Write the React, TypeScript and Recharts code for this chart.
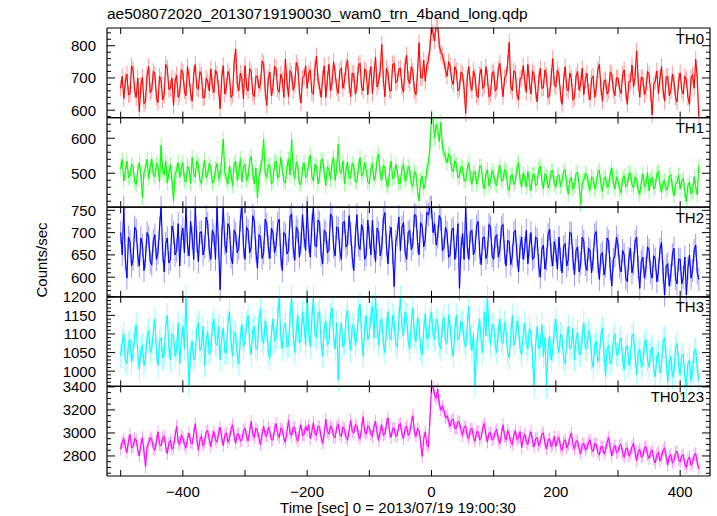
import React from 'react';
import { LineChart, Line, XAxis, YAxis, ErrorBar } from 'recharts';

// light curves, 2.5 s bins starting at T = -500 s (0 = 2013/07/19 19:00:30)
const T_START = -500;
const BIN = 2.5;

const TH0 = [
  668, 705, 636, 690, 712, 648, 650, 738, 724, 662, 640, 700, 596, 676, 702, 620, 628, 710, 735, 655,
  662, 720, 712, 640, 624, 705, 694, 632, 648, 742, 730, 665, 668, 700, 615, 690, 708, 640, 652, 725,
  718, 660, 645, 735, 700, 655, 628, 712, 742, 670, 665, 720, 708, 638, 640, 698, 690, 660, 728, 675,
  655, 725, 712, 668, 605, 700, 738, 650, 672, 720, 706, 640, 648, 745, 790, 682, 660, 715, 698, 635,
  738, 672, 660, 728, 720, 650, 642, 705, 705, 668, 684, 752, 745, 660, 615, 700, 718, 645, 670, 735,
  730, 665, 656, 712, 695, 640, 758, 690, 642, 722, 712, 662, 680, 748, 735, 658, 622, 700, 705, 738,
  668, 712, 725, 655, 650, 730, 768, 690, 672, 640, 700, 738, 640, 695, 742, 660, 685, 750, 715, 670,
  652, 722, 730, 668, 690, 735, 755, 680, 642, 715, 712, 650, 675, 740, 745, 672, 660, 728, 720, 648,
  700, 735, 652, 710, 765, 672, 688, 725, 804, 698, 642, 730, 715, 662, 660, 742, 745, 685, 690, 728,
  730, 672, 656, 740, 770, 695, 682, 735, 720, 660, 648, 718, 809, 702, 700, 755, 690, 740, 752, 795,
  860, 840, 815, 870, 865, 800, 780, 770, 752, 725, 705, 750, 738, 692, 680, 735, 722, 660, 668, 718,
  712, 665, 590, 700, 735, 680, 662, 722, 705, 648, 640, 710, 728, 668, 676, 735, 700, 642, 650, 715,
  720, 660, 668, 728, 745, 690, 642, 700, 708, 745, 811, 675, 660, 722, 716, 650, 632, 698, 700, 738,
  690, 655, 742, 688, 650, 720, 712, 660, 626, 695, 730, 668, 670, 725, 705, 640, 645, 702, 760, 680,
  672, 725, 708, 650, 618, 690, 735, 668, 660, 715, 698, 632, 640, 705, 720, 662, 682, 730, 648, 695,
  715, 655, 632, 698, 705, 640, 668, 725, 742, 672, 628, 690, 694, 650, 660, 718, 712, 662, 645, 700,
  700, 665, 652, 712, 725, 660, 618, 688, 690, 740, 672, 705, 784, 690, 640, 702, 700, 648, 662, 720,
  710, 655, 585, 680, 690, 722, 652, 698, 735, 662, 628, 702, 705, 645, 660, 712, 688, 640, 625, 690,
  716, 662, 650, 705, 695, 640, 618, 700, 710, 668, 758, 700, 580,
];

const TH1 = [
  512, 540, 478, 505, 535, 488, 492, 525, 520, 475, 468, 510, 530, 498, 430, 502, 515, 540, 485, 520,
  540, 495, 490, 528, 518, 475, 580, 510, 495, 535, 472, 500, 525, 480, 421, 498, 508, 530, 488, 515,
  530, 482, 475, 520, 512, 470, 545, 498, 490, 535, 522, 480, 470, 512, 538, 488, 497, 528, 515, 472,
  478, 512, 528, 485, 495, 540, 597, 505, 482, 470, 520, 498, 465, 525, 535, 480, 500, 542, 475, 518,
  525, 480, 492, 535, 548, 500, 470, 515, 430, 490, 515, 540, 597, 498, 488, 525, 522, 470, 476, 530,
  535, 485, 498, 545, 515, 478, 472, 520, 540, 495, 597, 510, 485, 532, 520, 470, 468, 512, 530, 488,
  495, 530, 552, 492, 478, 525, 518, 470, 490, 538, 540, 500, 465, 518, 512, 482, 528, 545, 480, 515,
  583, 505, 500, 535, 470, 512, 532, 485, 488, 528, 520, 476, 475, 518, 545, 492, 498, 530, 510, 475,
  470, 512, 528, 480, 492, 540, 555, 498, 480, 522, 515, 468, 462, 505, 535, 485, 490, 525, 508, 470,
  472, 515, 525, 478, 488, 520, 510, 470, 462, 505, 498, 450, 421, 480, 492, 455, 470, 510, 530, 575,
  660, 655, 600, 640, 625, 590, 645, 575, 560, 545, 530, 555, 548, 510, 505, 535, 525, 488, 490, 520,
  515, 480, 478, 512, 530, 490, 468, 502, 505, 470, 485, 520, 520, 475, 455, 498, 510, 465, 475, 508,
  498, 470, 465, 505, 522, 478, 480, 510, 505, 462, 450, 492, 495, 468, 475, 515, 530, 480, 462, 500,
  488, 460, 505, 475, 450, 495, 498, 465, 470, 512, 520, 478, 455, 498, 490, 458, 472, 505, 508, 470,
  460, 492, 495, 462, 478, 505, 510, 470, 440, 482, 488, 455, 465, 500, 502, 468, 411, 475, 480, 500,
  495, 465, 452, 490, 485, 455, 470, 502, 508, 470, 448, 485, 490, 460, 462, 498, 515, 472, 455, 490,
  478, 455, 445, 485, 492, 462, 465, 498, 500, 468, 458, 490, 482, 450, 440, 475, 498, 462, 470, 502,
  450, 482, 488, 455, 462, 498, 505, 468, 445, 475, 480, 452, 458, 492, 495, 460, 435, 470, 472, 495,
  455, 478, 485, 450, 418, 465, 475, 442, 448, 490, 462, 438, 520,
];

const TH2 = [
  700, 650, 757, 640, 598, 690, 680, 625, 640, 712, 705, 648, 625, 688, 672, 615, 645, 700, 690, 635,
  628, 682, 695, 640, 655, 710, 757, 660, 612, 675, 688, 632, 640, 715, 700, 650, 660, 720, 625, 690,
  710, 655, 757, 672, 648, 725, 690, 640, 757, 680, 635, 700, 702, 650, 668, 735, 720, 660, 640, 705,
  695, 640, 757, 668, 572, 690, 757, 675, 655, 720, 712, 645, 630, 705, 698, 655, 665, 728, 757, 670,
  640, 712, 705, 655, 668, 738, 725, 660, 620, 695, 690, 642, 655, 730, 718, 668, 642, 710, 700, 655,
  672, 720, 730, 648, 615, 700, 695, 652, 660, 735, 742, 668, 638, 712, 705, 645, 675, 740, 690, 660,
  757, 680, 645, 715, 757, 672, 668, 728, 722, 650, 630, 705, 700, 655, 660, 742, 735, 668, 648, 712,
  710, 660, 640, 722, 725, 668, 675, 738, 698, 645, 615, 690, 740, 672, 662, 718, 705, 640, 650, 728,
  690, 650, 728, 668, 635, 710, 700, 648, 665, 730, 745, 672, 630, 690, 712, 655, 579, 680, 695, 735,
  660, 712, 722, 658, 640, 700, 705, 662, 675, 740, 738, 680, 650, 722, 715, 668, 685, 745, 740, 757,
  757, 700, 720, 672, 690, 738, 730, 660, 665, 712, 700, 645, 650, 705, 710, 640, 668, 720, 575, 665,
  698, 640, 757, 670, 640, 702, 705, 650, 662, 715, 725, 655, 628, 688, 690, 642, 655, 718, 712, 648,
  640, 690, 695, 645, 660, 712, 718, 655, 625, 682, 680, 628, 648, 700, 705, 650, 612, 668, 690, 640,
  665, 705, 630, 672, 700, 640, 645, 690, 685, 625, 600, 662, 672, 618, 640, 695, 708, 650, 625, 680,
  660, 618, 690, 640, 610, 668, 675, 625, 640, 700, 698, 642, 605, 660, 668, 612, 630, 690, 680, 628,
  615, 665, 660, 610, 640, 695, 702, 635, 595, 650, 655, 605, 625, 688, 680, 620, 580, 640, 648, 690,
  672, 625, 612, 660, 650, 598, 590, 642, 665, 610, 630, 680, 690, 622, 575, 635, 645, 598, 620, 668,
  660, 610, 598, 648, 640, 590, 615, 662, 678, 612, 560, 625, 630, 580, 605, 650, 665, 598, 585, 640,
  640, 585, 600, 645, 560, 620, 650, 598, 615, 660, 672, 610, 595,
];

const TH3 = [
  1040, 1080, 1100, 1030, 1020, 1075, 1085, 1025, 1050, 1095, 1125, 1045, 1005, 1060, 1070, 1015, 1035, 1090, 1110, 1050,
  1060, 1105, 1140, 1055, 1015, 1080, 1090, 1035, 1045, 1120, 1150, 1065, 1030, 1100, 1095, 1040, 1060, 1130, 1020, 1085,
  1120, 1060, 1199, 1070, 962, 1050, 1080, 1030, 1040, 1115, 1130, 1055, 1065, 1120, 1015, 1085, 1105, 1045, 1055, 1125,
  1140, 1075, 1070, 1120, 1030, 1090, 1115, 1050, 1050, 1135, 1160, 1080, 1040, 1105, 1100, 1045, 1020, 1090, 1125, 1065,
  1085, 1130, 1150, 1070, 1045, 1110, 1120, 1060, 1060, 1140, 1165, 1085, 1075, 1135, 1110, 1050, 1035, 1100, 1140, 1080,
  1090, 1145, 1199, 1095, 1060, 1120, 1130, 1065, 1070, 1150, 1199, 1100, 1050, 1110, 1150, 1075, 1085, 1160, 1125, 1070,
  1199, 1110, 1065, 1140, 1199, 1100, 1090, 1155, 1160, 1075, 1040, 1120, 1135, 1070, 1080, 1150, 1170, 1095, 1060, 1130,
  976, 1100, 1130, 1065, 1075, 1145, 1165, 1090, 1055, 1125, 1120, 1070, 1090, 1160, 1180, 1095, 1040, 1115, 1150, 1085,
  1100, 1150, 1175, 1090, 1199, 1120, 1070, 1135, 1140, 1075, 1050, 1115, 1160, 1090, 1085, 1150, 1130, 1070, 1065, 1140,
  1199, 1120, 1095, 1160, 1150, 1080, 1060, 1130, 1170, 1095, 1080, 1145, 1125, 1060, 1045, 1110, 1155, 1085, 1090, 1140,
  1160, 1100, 1085, 1140, 1130, 1070, 1060, 1125, 1145, 1080, 1075, 1150, 1120, 1065, 1040, 1110, 1150, 1085, 1090, 1135,
  1130, 1080, 1065, 1120, 1175, 1090, 1055, 1100, 962, 1060, 1110, 1140, 1080, 1050, 1160, 1095, 1199, 1110, 1070, 1125,
  1125, 1070, 1050, 1110, 1140, 1080, 1075, 1130, 1105, 1050, 1035, 1095, 1150, 1070, 1085, 1135, 1115, 1060, 1045, 1100,
  1130, 1075, 1060, 1115, 1100, 1040, 959, 1070, 1120, 1060, 1070, 1125, 1040, 1090, 959, 1060, 1095, 1030, 1055, 1110,
  1140, 1075, 1050, 1100, 1090, 1035, 1020, 1080, 1120, 1060, 1065, 1115, 1030, 1085, 1105, 1045, 1045, 1095, 1130, 1060,
  1060, 1110, 1095, 1035, 1010, 1070, 1080, 1025, 1040, 1095, 1115, 1050, 985, 1060, 1070, 1020, 1030, 1085, 1100, 1045,
  1045, 1080, 1090, 1030, 1005, 1060, 1070, 1015, 1035, 1095, 1100, 1040, 990, 1050, 1060, 1010, 1020, 1075, 1085, 1030,
  1010, 1055, 1065, 1005, 985, 1040, 1050, 995, 1015, 1080, 1090, 1030, 970, 1025, 1040, 985, 1000, 1060, 1075, 1020,
  990, 1040, 1045, 985, 959, 1020, 1030, 975, 1000, 1055, 1060, 1005, 975,
];

const TH0123 = [
  2860, 2920, 2950, 2880, 2830, 2930, 2985, 2870, 2880, 2950, 2940, 2850, 2800, 2900, 2960, 2840, 2704, 2880, 2910, 2960,
  2945, 2870, 2850, 2930, 3010, 2900, 2890, 2960, 2970, 2880, 2820, 2910, 2935, 2860, 2880, 2970, 3060, 2920, 2900, 2980,
  2960, 2900, 2870, 2950, 3000, 2920, 2905, 2990, 3080, 2950, 2850, 2940, 2975, 2890, 2920, 3010, 3020, 2940, 2880, 2970,
  3010, 2940, 2920, 3000, 3050, 2960, 2890, 2980, 3000, 2920, 2950, 3030, 3070, 2970, 2910, 2990, 2990, 2930, 2940, 3020,
  3040, 2970, 2930, 3010, 3100, 2990, 2960, 3040, 3020, 2950, 2900, 2990, 3060, 2980, 2970, 3050, 3010, 2940, 2940, 3030,
  3080, 2990, 2960, 3040, 3030, 2950, 2920, 3010, 3110, 3000, 2975, 3050, 3045, 2960, 2930, 3020, 3070, 2980, 2985, 3060,
  3020, 3070, 2950, 3010, 3090, 2990, 2980, 3060, 3050, 2960, 2910, 3000, 3120, 3010, 2990, 3060, 3040, 2970, 2960, 3050,
  3075, 2990, 2970, 3050, 3030, 2960, 2940, 3020, 3110, 3010, 3000, 3070, 3060, 2980, 2950, 3040, 3140, 3010, 2990, 3060,
  3050, 2990, 2970, 3060, 3100, 3000, 2935, 3020, 3070, 2980, 2990, 3080, 3130, 3010, 2960, 3040, 3040, 2970, 2980, 3070,
  3080, 2990, 2950, 3040, 3060, 2980, 3000, 3090, 3150, 3010, 2970, 3040, 3020, 2920, 2797, 2950, 3010, 2900, 2880, 3120,
  3400, 3400, 3330, 3300, 3380, 3250, 3200, 3230, 3197, 3130, 3150, 3100, 3060, 3110, 3120, 3040, 3040, 3100, 3090, 3020,
  2980, 3050, 3060, 2970, 2950, 3030, 3040, 2960, 2930, 3010, 3010, 2940, 2960, 3050, 3080, 2980, 2920, 3000, 3000, 2940,
  2950, 3010, 3030, 2940, 2910, 2990, 3070, 2970, 2940, 3020, 2990, 2920, 2900, 2980, 3020, 2940, 2960, 3010, 2870, 2950,
  2990, 2920, 2900, 2970, 3010, 2930, 2880, 2950, 2960, 2890, 2920, 2990, 3000, 2910, 2860, 2940, 2950, 2880, 2900, 2970,
  2880, 2940, 2960, 2880, 2850, 2920, 2940, 2870, 2900, 2960, 3000, 2900, 2860, 2930, 2930, 2860, 2820, 2900, 2910, 2850,
  2870, 2920, 2940, 2860, 2840, 2910, 2900, 2830, 2810, 2880, 2880, 2820, 2850, 2920, 2960, 2870, 2800, 2860, 2890, 2830,
  2840, 2890, 2900, 2820, 2790, 2860, 2870, 2800, 2820, 2880, 2910, 2830, 2760, 2840, 2860, 2790, 2800, 2870, 2880, 2810,
  2780, 2830, 2850, 2770, 2740, 2810, 2830, 2760, 2790, 2850, 2870, 2790, 2720, 2800, 2810, 2740, 2760, 2830, 2840, 2770,
  2750, 2800, 2810, 2730, 2700, 2770, 2790, 2720, 2740, 2810, 2820, 2740, 2690,
];

// typical 1-sigma error bar half-length per band
const ERR = { TH0: 26, TH1: 22, TH2: 26, TH3: 33, TH0123: 55 };

const X_TICKS = [-500, -400, -300, -200, -100, 0, 100, 200, 300, 400];
const X_LABELS = [-400, -200, 0, 200, 400];

const TH0_TICKS = [580, 600, 620, 640, 660, 680, 700, 720, 740, 760, 780, 800, 820, 840];
const TH0_MAJOR = [600, 700, 800];
const TH1_TICKS = [420, 440, 460, 480, 500, 520, 540, 560, 580, 600, 620, 640];
const TH1_MAJOR = [500, 600];
const TH2_TICKS = [560, 570, 580, 590, 600, 610, 620, 630, 640, 650, 660, 670, 680, 690, 700, 710, 720, 730, 740, 750];
const TH2_MAJOR = [600, 650, 700, 750];
const TH3_TICKS = [960, 970, 980, 990, 1000, 1010, 1020, 1030, 1040, 1050, 1060, 1070, 1080, 1090, 1100, 1110, 1120, 1130, 1140, 1150, 1160, 1170, 1180, 1190, 1200];
const TH3_MAJOR = [1000, 1050, 1100, 1150, 1200];
const SUM_TICKS = [2650, 2700, 2750, 2800, 2850, 2900, 2950, 3000, 3050, 3100, 3150, 3200, 3250, 3300, 3350, 3400];
const SUM_MAJOR = [2800, 3000, 3200, 3400];

const W = 717;
const H = 516;
const LEFT = 107;
const RIGHT = 710;
const TOP = 28;
const BOTTOM = 476;
const PH = (BOTTOM - TOP) / 5;
const X_DOMAIN = [-522, 448];
const FONT = '"Liberation Sans", Arial, Helvetica, sans-serif';
const INK = '#000';

const panels = [
  { name: 'TH0', values: TH0, err: ERR.TH0, color: '#ff0000', domain: [577, 855], ticks: TH0_TICKS, major: TH0_MAJOR },
  { name: 'TH1', values: TH1, err: ERR.TH1, color: '#00ff00', domain: [403, 659], ticks: TH1_TICKS, major: TH1_MAJOR },
  { name: 'TH2', values: TH2, err: ERR.TH2, color: '#0000ff', domain: [556, 757], ticks: TH2_TICKS, major: TH2_MAJOR },
  { name: 'TH3', values: TH3, err: ERR.TH3, color: '#00ffff', domain: [959, 1200], ticks: TH3_TICKS, major: TH3_MAJOR },
  { name: 'TH0123', values: TH0123, err: ERR.TH0123, color: '#ff00ff', domain: [2626, 3404], ticks: SUM_TICKS, major: SUM_MAJOR },
];

const fmt = (v: number) => (v < 0 ? '\u2212' + Math.abs(v) : String(v));

function Panel({ p, index }: { p: any; index: number }) {
  const top = TOP + index * PH;
  const bottom = top + PH;
  const last = index === panels.length - 1;
  const data = p.values.map((v: number, i: number) => ({ t: T_START + i * BIN, v, e: p.err }));
  const axisLine = { stroke: INK, strokeWidth: 1.2 };

  const yTickLeft = (props: any) => {
    const { y, payload } = props;
    const major = p.major.includes(payload.value);
    return (
      <g>
        <line x1={LEFT} x2={LEFT + (major ? 8 : 4)} y1={y} y2={y} stroke={INK} strokeWidth={1} />
        {major && (
          <text x={LEFT - 11} y={y} textAnchor="end" dominantBaseline="central" fontSize={15} fontFamily={FONT} fill={INK}>
            {payload.value}
          </text>
        )}
      </g>
    );
  };

  const yTickRight = (props: any) => {
    const { y, payload } = props;
    const major = p.major.includes(payload.value);
    return <line x1={RIGHT} x2={RIGHT - (major ? 8 : 4)} y1={y} y2={y} stroke={INK} strokeWidth={1} />;
  };

  const xTickBottom = (props: any) => {
    const { x, payload } = props;
    return (
      <g>
        <line x1={x} x2={x} y1={bottom} y2={bottom - 6} stroke={INK} strokeWidth={1} />
        {last && X_LABELS.includes(payload.value) && (
          <text x={x} y={491} textAnchor="middle" dominantBaseline="central" fontSize={15} fontFamily={FONT} fill={INK}>
            {fmt(payload.value)}
          </text>
        )}
      </g>
    );
  };

  const xTickTop = (props: any) => {
    const { x } = props;
    return <line x1={x} x2={x} y1={top} y2={top + 6} stroke={INK} strokeWidth={1} />;
  };

  return (
    <LineChart
      width={W}
      height={H}
      data={data}
      margin={{ top: 0, bottom: 0, left: 0, right: 0 }}
      style={{ position: 'absolute', left: 0, top: 0 }}
    >
      <XAxis xAxisId="b" dataKey="t" type="number" domain={X_DOMAIN} ticks={X_TICKS} interval={0} height={H - bottom}
        orientation="bottom" allowDataOverflow axisLine={axisLine} tickLine={false} tick={xTickBottom} />
      <XAxis xAxisId="t" dataKey="t" type="number" domain={X_DOMAIN} ticks={X_TICKS} interval={0} height={top}
        orientation="top" allowDataOverflow axisLine={axisLine} tickLine={false} tick={xTickTop} />
      <YAxis yAxisId="l" type="number" domain={p.domain} ticks={p.ticks} interval={0} width={LEFT}
        orientation="left" allowDataOverflow axisLine={axisLine} tickLine={false} tick={yTickLeft} />
      <YAxis yAxisId="r" type="number" domain={p.domain} ticks={p.ticks} interval={0} width={W - RIGHT}
        orientation="right" allowDataOverflow axisLine={axisLine} tickLine={false} tick={yTickRight} />
      {/* faint copy on the mirrored axes, keeps them tied to the data */}
      <Line xAxisId="t" yAxisId="r" dataKey="v" stroke={p.color} strokeOpacity={0.3} strokeWidth={1.5}
        dot={false} activeDot={false} isAnimationActive={false} />
      <Line xAxisId="b" yAxisId="l" dataKey="v" stroke={p.color} strokeWidth={1}
        dot={false} activeDot={false} isAnimationActive={false}>
        <ErrorBar dataKey="e" direction="y" width={0} stroke={p.color} strokeOpacity={0.4} strokeWidth={1} />
      </Line>
    </LineChart>
  );
}

export default function App() {
  return (
    <div style={{ position: 'absolute', left: 0, top: 0, width: W, height: H, background: '#fff', fontFamily: FONT }}>
      {panels.map((p, i) => (
        <Panel key={p.name} p={p} index={i} />
      ))}
      <svg width={W} height={H} style={{ position: 'absolute', left: 0, top: 0, pointerEvents: 'none' }}>
        <text x={107} y={19} fontSize={15.5} fontFamily={FONT} fill={INK}>
          ae508072020_20130719190030_wam0_trn_4band_long.qdp
        </text>
        {panels.map((p, i) => (
          <text key={p.name} x={704} y={TOP + i * PH + 10} textAnchor="end" dominantBaseline="central"
            fontSize={15} fontFamily={FONT} fill={INK}>
            {p.name}
          </text>
        ))}
        <text x={41} y={260} transform="rotate(-90, 41, 260)" textAnchor="middle" dominantBaseline="central"
          fontSize={15} fontFamily={FONT} fill={INK}>
          Counts/sec
        </text>
        <text x={398} y={507} textAnchor="middle" dominantBaseline="central" fontSize={15} fontFamily={FONT} fill={INK}>
          Time [sec] 0 = 2013/07/19 19:00:30
        </text>
      </svg>
    </div>
  );
}
